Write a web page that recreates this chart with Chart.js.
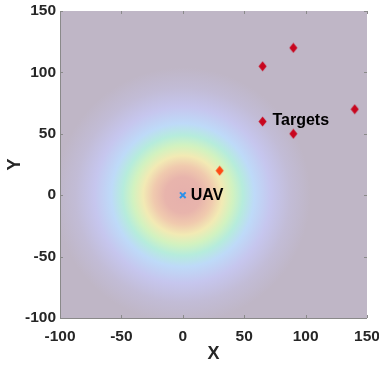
<!DOCTYPE html>
<html><head><meta charset="utf-8">
<script src="https://cdn.jsdelivr.net/npm/chart.js@4"></script>
<style>html,body{margin:0;padding:0;background:#fff}#wrap{width:379px;height:365px}</style>
</head><body><div id="wrap"><canvas id="c" width="379" height="365"></canvas></div>
<script>
const targetX = [30, 65, 90, 65, 90, 140];
const targetY = [20, 105, 120, 60, 50, 70];
const uavX = [0];
const uavY = [0];
const xTicks = [-100, -50, 0, 50, 100, 150];
const yTicks = [-100, -50, 0, 50, 100, 150];
const labelTexts = ['UAV', 'Targets'];
const labelX = [6.5, 73];
const labelY = [0, 61];
const heatCenter = [0, 0];
const heatRadius = 104;

function diamond(color){
  const c = document.createElement('canvas'); c.width = 9; c.height = 11;
  const g = c.getContext('2d'); g.fillStyle = color; g.beginPath();
  g.moveTo(4.5,0.5); g.lineTo(8.5,5.5); g.lineTo(4.5,10.5); g.lineTo(0.5,5.5); g.closePath(); g.fill();
  return c;
}
const dRed = diamond('#c8061e'), dOrange = diamond('#ff4a14');

const heatPlugin = {
  id: 'heat',
  beforeDatasetsDraw(chart){
    const {ctx, chartArea:a, scales:{x,y}} = chart;
    ctx.save();
    ctx.beginPath(); ctx.rect(a.left, a.top, a.right-a.left, a.bottom-a.top); ctx.clip();
    ctx.fillStyle = '#bfb6c6'; ctx.fillRect(a.left, a.top, a.right-a.left, a.bottom-a.top);
    const cx = x.getPixelForValue(heatCenter[0]), cy = y.getPixelForValue(heatCenter[1]);
    const r = x.getPixelForValue(heatCenter[0]+heatRadius) - cx;
    const g = ctx.createRadialGradient(cx, cy, 0, cx, cy, r);
    g.addColorStop(0, '#e6b0ac');
    g.addColorStop(0.14, '#e8b4ac');
    g.addColorStop(0.23, '#f0caae');
    g.addColorStop(0.31, '#f2eab4');
    g.addColorStop(0.39, '#d2f2c0');
    g.addColorStop(0.47, '#b6ecdc');
    g.addColorStop(0.56, '#bedaf8');
    g.addColorStop(0.69, '#c6c6ee');
    g.addColorStop(0.84, '#c2bcd6');
    g.addColorStop(1, '#bfb6c6');
    ctx.fillStyle = g;
    ctx.fillRect(a.left, a.top, a.right-a.left, a.bottom-a.top);
    ctx.restore();
  },
  afterDatasetsDraw(chart){
    const {ctx, chartArea:a, scales:{x,y}} = chart;
    ctx.save();
    ctx.font = 'bold 16px "Liberation Sans", Arial, sans-serif';
    ctx.fillStyle = '#000'; ctx.textBaseline = 'middle'; ctx.textAlign = 'left';
    labelTexts.forEach((t,i)=>ctx.fillText(t, x.getPixelForValue(labelX[i]), y.getPixelForValue(labelY[i])));
    ctx.strokeStyle = '#8a8a8a'; ctx.lineWidth = 1;
    ctx.beginPath();
    ctx.moveTo(a.left+0.5, a.top); ctx.lineTo(a.left+0.5, a.bottom+0.5); ctx.lineTo(a.right, a.bottom+0.5);
    ctx.stroke();
    ctx.beginPath();
    const L = 3;
    xTicks.forEach(v=>{ const px = Math.round(x.getPixelForValue(v))+0.5;
      ctx.moveTo(px, a.bottom); ctx.lineTo(px, a.bottom-L);
      ctx.moveTo(px, a.top); ctx.lineTo(px, a.top+L); });
    yTicks.forEach(v=>{ const py = Math.round(y.getPixelForValue(v))+0.5;
      ctx.moveTo(a.left, py); ctx.lineTo(a.left+L, py);
      ctx.moveTo(a.right, py); ctx.lineTo(a.right-L, py); });
    ctx.stroke();
    ctx.restore();
  }
};

const tickFont = {family:'"Liberation Sans", Arial, sans-serif', size:15.5, weight:'bold'};
const titleFont = {family:'"Liberation Sans", Arial, sans-serif', size:18, weight:'bold'};
new Chart(document.getElementById('c'), {
  type: 'scatter',
  data: { datasets: [
    { label:'Targets', data: targetX.map((v,i)=>({x:v,y:targetY[i]})),
      pointStyle: targetX.map((v,i)=> i===0 ? dOrange : dRed), pointRadius: 5 },
    { label:'UAV', data: uavX.map((v,i)=>({x:v,y:uavY[i]})),
      pointStyle:'crossRot', pointRadius:4, borderColor:'#2a90ea', borderWidth:2 }
  ]},
  options: {
    responsive:false, animation:false,
    layout:{padding:{left:4,right:12,top:11,bottom:0}},
    plugins:{legend:{display:false}, tooltip:{enabled:false}},
    scales:{
      x:{ type:'linear', min:-100, max:150,
        afterBuildTicks: s=>{ s.ticks = xTicks.map(v=>({value:v})); },
        afterFit: s=>{ s.height = 47; s.paddingLeft = 0; s.paddingRight = 0; },
        grid:{display:false, drawTicks:false, tickLength:0}, border:{display:false},
        ticks:{font:tickFont, color:'#262626', padding:9, maxRotation:0},
        title:{display:true, text:'X', font:titleFont, color:'#262626', padding:{top:0,bottom:0}} },
      y:{ type:'linear', min:-100, max:150,
        afterBuildTicks: s=>{ s.ticks = yTicks.map(v=>({value:v})); },
        afterFit: s=>{ s.width = 56; s.paddingTop = 0; s.paddingBottom = 0; },
        grid:{display:false, drawTicks:false, tickLength:0}, border:{display:false},
        ticks:{font:tickFont, color:'#262626', padding:4},
        title:{display:true, text:'Y', font:titleFont, color:'#262626', padding:{top:0,bottom:2}} }
    }
  },
  plugins:[heatPlugin]
});
</script></body></html>
